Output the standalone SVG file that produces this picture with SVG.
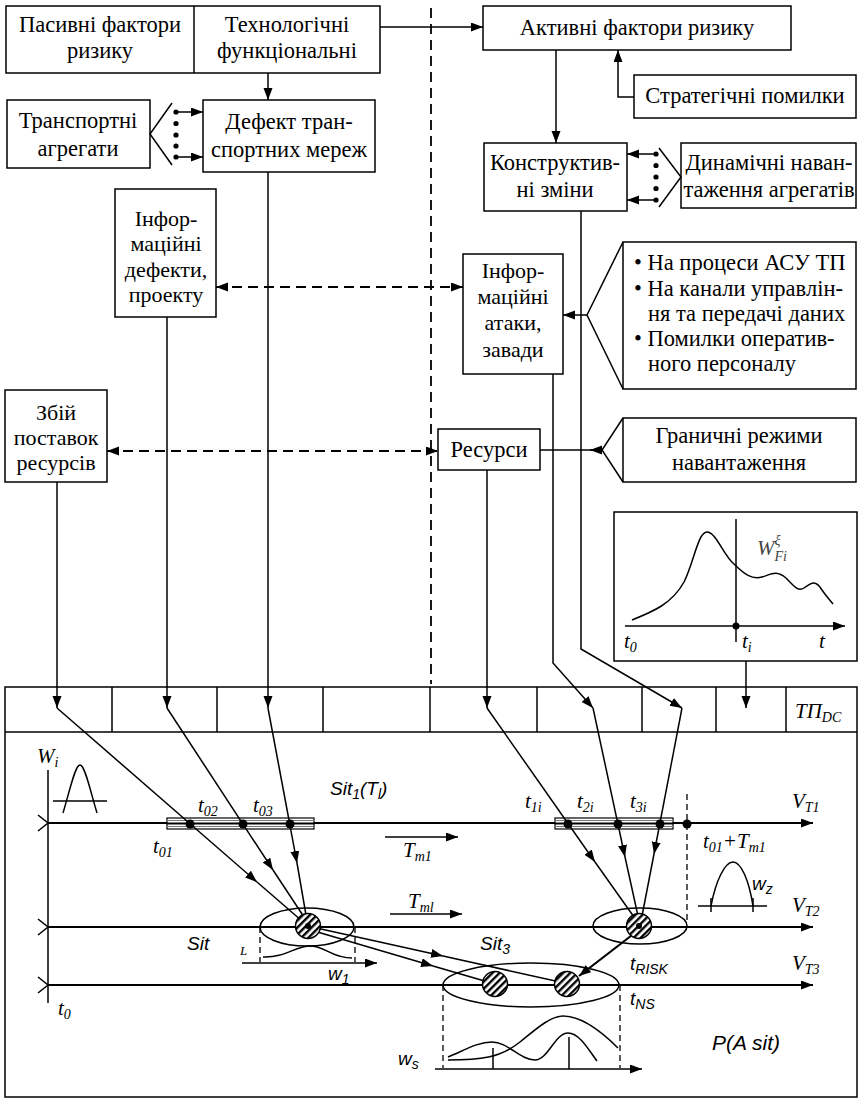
<svg xmlns="http://www.w3.org/2000/svg" width="858" height="1098" viewBox="0 0 858 1098">
<style>
.bx{fill:#fff;stroke:#000;stroke-width:1.5}
.ln{fill:none;stroke:#000;stroke-width:1.5}
.th{fill:none;stroke:#000;stroke-width:2.2}
.ds{fill:none;stroke:#000;stroke-width:1.8;stroke-dasharray:10,6}
.dsl{fill:none;stroke:#000;stroke-width:1.3;stroke-dasharray:6,4}
.t{font-family:'Liberation Serif','Times New Roman',serif;font-size:22.5px;fill:#000;text-anchor:middle}
.t4{font-size:22px}
.tl{font-family:'Liberation Serif','Times New Roman',serif;font-size:22.5px;fill:#000}
.i{font-family:'Liberation Serif','Times New Roman',serif;font-style:italic;font-size:21px;fill:#000}
.s{font-family:'Liberation Sans',Arial,sans-serif;font-style:italic;font-size:19px;fill:#000}
.sb{font-size:14px}
</style>
<defs>
<marker id="ah" markerUnits="userSpaceOnUse" markerWidth="14" markerHeight="10" refX="12" refY="4.5" orient="auto-start-reverse" viewBox="0 0 14 10">
<path d="M0,0 L12,4.5 L0,9 z" fill="#000"/>
</marker>
<pattern id="hatch" patternUnits="userSpaceOnUse" width="5" height="5" patternTransform="rotate(45)">
<rect width="5" height="5" fill="#fff"/>
<rect width="2.4" height="5" fill="#000"/>
</pattern>
</defs>

<g id="n-pasyvni">
<rect class="bx" x="6" y="6" width="374" height="67"/>
<line class="ln" x1="194" y1="6" x2="194" y2="73"/>
<text class="t" x="100" y="32">Пасивні фактори</text>
<text class="t" x="100" y="58">ризику</text>
</g>
<g id="n-tehnologichni">
<text class="t" x="287" y="32">Технологічні</text>
<text class="t" x="287" y="58">функціональні</text>
</g>
<g id="n-aktyvni">
<rect class="bx" x="483" y="6" width="308" height="44"/>
<text class="t" x="637" y="35">Активні фактори ризику</text>
</g>
<g id="n-strategichni">
<rect class="bx" x="634" y="75" width="222" height="43"/>
<text class="t" x="745" y="103">Стратегічні помилки</text>
</g>
<g id="n-transportni">
<rect class="bx" x="7" y="100" width="143" height="68"/>
<text class="t" x="78" y="128">Транспортні</text>
<text class="t" x="78" y="156">агрегати</text>
</g>
<g id="n-defekt">
<rect class="bx" x="203" y="100" width="172" height="72"/>
<text class="t" x="289" y="129">Дефект тран-</text>
<text class="t" x="289" y="157">спортних мереж</text>
</g>
<g id="n-konstruktyvni">
<rect class="bx" x="484" y="143" width="143" height="68"/>
<text class="t" x="555" y="170">Конструктив-</text>
<text class="t" x="555" y="197">ні зміни</text>
</g>
<g id="n-dynamichni">
<rect class="bx" x="681" y="143" width="175" height="65"/>
<text class="t" x="769" y="170">Динамічні наван-</text>
<text class="t" x="769" y="197">таження агрегатів</text>
</g>
<g id="n-info-defekty">
<rect class="bx" x="115" y="189" width="101" height="128"/>
<text class="t t4" x="166" y="226">Інфор-</text>
<text class="t t4" x="166" y="251">маційні</text>
<text class="t t4" x="166" y="277">дефекти,</text>
<text class="t t4" x="166" y="302">проекту</text>
</g>
<g id="n-info-ataky">
<rect class="bx" x="463" y="254" width="100" height="120"/>
<text class="t t4" x="513" y="278">Інфор-</text>
<text class="t t4" x="513" y="304">маційні</text>
<text class="t t4" x="513" y="330">атаки,</text>
<text class="t t4" x="513" y="357">завади</text>
</g>
<g id="n-bullets">
<rect class="bx" x="623" y="242" width="233" height="147"/>
<text class="tl" x="634" y="270">• На процеси АСУ ТП</text>
<text class="tl" x="634" y="296">• На канали управлін-</text>
<text class="tl" x="648" y="321">ня та передачі даних</text>
<text class="tl" x="634" y="346">• Помилки оператив-</text>
<text class="tl" x="648" y="371">ного персоналу</text>
</g>
<g id="n-zbij">
<rect class="bx" x="5" y="390" width="102" height="92"/>
<text class="t t4" x="56" y="420">Збій</text>
<text class="t t4" x="56" y="445">поставок</text>
<text class="t t4" x="56" y="470">ресурсів</text>
</g>
<g id="n-resursy">
<rect class="bx" x="438" y="429" width="102" height="41"/>
<text class="t" x="489" y="457">Ресурси</text>
</g>
<g id="n-granychni">
<rect class="bx" x="623" y="418" width="233" height="64"/>
<text class="t" x="739" y="443">Граничні режими</text>
<text class="t" x="739" y="470">навантаження</text>
</g>

<g id="n-wchart">
<rect class="bx" x="614" y="512" width="243" height="149"/>
<line class="ln" x1="625" y1="626" x2="845" y2="626" marker-end="url(#ah)"/>
<line class="ln" x1="736" y1="519" x2="736" y2="642"/>
<circle cx="736" cy="626" r="3.5" fill="#000"/>
<path class="ln" d="M632,620 C652,612 672,604 684,582 C694,562 698,532 707,532 C716,532 724,556 734,564 C744,574 752,580 762,577 C772,574 776,570 786,578 C794,586 798,592 804,588 C812,582 816,580 822,590 C826,596 830,600 833,604"/>
<text class="i" x="757" y="555" style="fill:#444">W<tspan class="sb" dy="-10">ξ</tspan><tspan class="sb" dx="-6" dy="16">Fi</tspan></text>
<text class="i" x="624" y="648">t<tspan class="sb" dy="4">0</tspan></text>
<text class="i" x="742" y="648">t<tspan class="sb" dy="4">i</tspan></text>
<text class="i" x="819" y="648">t</text>
</g>

<g id="n-tp">
<rect class="ln" x="5" y="687" width="852" height="410"/>
<line class="ln" x1="5" y1="732" x2="857" y2="732"/>
<g class="ln">
<line x1="112" y1="687" x2="112" y2="732"/>
<line x1="217" y1="687" x2="217" y2="732"/>
<line x1="323" y1="687" x2="323" y2="732"/>
<line x1="430" y1="687" x2="430" y2="732"/>
<line x1="537" y1="687" x2="537" y2="732"/>
<line x1="642" y1="687" x2="642" y2="732"/>
<line x1="716" y1="687" x2="716" y2="732"/>
<line x1="786" y1="687" x2="786" y2="732"/>
</g>
<text class="i" x="795" y="718">ТП<tspan class="sb" dy="4">DC</tspan></text>
</g>

<g id="n-axes">
<line class="ln" x1="48" y1="770" x2="48" y2="1003"/>
<path class="ln" d="M63,813 C70,790 75,765 80,765 C85,765 90,790 97,813"/>
<line class="ln" x1="53" y1="801" x2="107" y2="801"/>
<text class="i" x="37" y="763">W<tspan class="sb" dy="4">i</tspan></text>
<polyline class="ln" points="38,815 48,823 38,831"/>
<polyline class="ln" points="38,919 48,927 38,935"/>
<polyline class="ln" points="38,977 48,985 38,993"/>
<line class="th" x1="48" y1="823" x2="813" y2="823" marker-end="url(#ah)"/>
<line class="th" x1="48" y1="927" x2="813" y2="927" marker-end="url(#ah)"/>
<line class="th" x1="48" y1="985" x2="813" y2="985" marker-end="url(#ah)"/>
<text class="i" x="792" y="808">V<tspan class="sb" dy="4">T1</tspan></text>
<text class="i" x="792" y="912">V<tspan class="sb" dy="4">T2</tspan></text>
<text class="i" x="792" y="970">V<tspan class="sb" dy="4">T3</tspan></text>
<text class="i" x="58" y="1015">t<tspan class="sb" dy="4">0</tspan></text>
</g>

<g id="n-band1">
<rect x="167" y="818" width="147" height="11" fill="#fff" stroke="#000" stroke-width="1.2"/>
<line x1="167" y1="820.5" x2="314" y2="820.5" stroke="#777" stroke-width="1"/>
<line x1="167" y1="826.5" x2="314" y2="826.5" stroke="#777" stroke-width="1"/>
<line x1="167" y1="823.5" x2="314" y2="823.5" stroke="#000" stroke-width="2"/>
<circle cx="190" cy="824" r="4.5" fill="#000"/>
<circle cx="243" cy="824" r="4.5" fill="#000"/>
<circle cx="290" cy="824" r="4.5" fill="#000"/>
<text class="i" x="153" y="853">t<tspan class="sb" dy="4">01</tspan></text>
<text class="i" x="198" y="812">t<tspan class="sb" dy="4">02</tspan></text>
<text class="i" x="253" y="812">t<tspan class="sb" dy="4">03</tspan></text>
</g>
<g id="n-band2">
<rect x="555" y="818" width="118" height="11" fill="#fff" stroke="#000" stroke-width="1.2"/>
<line x1="555" y1="820.5" x2="673" y2="820.5" stroke="#777" stroke-width="1"/>
<line x1="555" y1="826.5" x2="673" y2="826.5" stroke="#777" stroke-width="1"/>
<line x1="555" y1="823.5" x2="673" y2="823.5" stroke="#000" stroke-width="2"/>
<circle cx="568" cy="824" r="4.5" fill="#000"/>
<circle cx="618" cy="824" r="4.5" fill="#000"/>
<circle cx="660" cy="824" r="4.5" fill="#000"/>
<circle cx="687" cy="824" r="4.5" fill="#000"/>
<line class="dsl" x1="687" y1="794" x2="687" y2="922"/>
<text class="i" x="525" y="808">t<tspan class="sb" dy="4">1i</tspan></text>
<text class="i" x="577" y="808">t<tspan class="sb" dy="4">2i</tspan></text>
<text class="i" x="630" y="808">t<tspan class="sb" dy="4">3i</tspan></text>
<text class="i" x="703" y="848">t<tspan class="sb" dy="4">01</tspan><tspan dy="-4">+T</tspan><tspan class="sb" dy="4">m1</tspan></text>
</g>

<g id="connectors">
<line class="ln" x1="380" y1="27" x2="483" y2="27" marker-end="url(#ah)"/>
<line class="ln" x1="268" y1="73" x2="268" y2="100" marker-end="url(#ah)"/>
<polyline class="ln" points="634,97 618,97 618,50" marker-end="url(#ah)"/>
<line class="ln" x1="556" y1="50" x2="556" y2="143" marker-end="url(#ah)"/>
<polyline class="ln" points="172,103 150,134 172,165"/>
<line class="ln" x1="176" y1="112" x2="203" y2="112" marker-end="url(#ah)"/>
<line class="ln" x1="176" y1="157" x2="203" y2="157" marker-end="url(#ah)"/>
<g fill="#000"><circle cx="176" cy="112" r="2.6"/><circle cx="176" cy="123.5" r="2.6"/><circle cx="176" cy="135" r="2.6"/><circle cx="176" cy="146" r="2.6"/><circle cx="176" cy="157" r="2.6"/></g>
<polyline class="ln" points="659,148 681,177 659,207"/>
<line class="ln" x1="656" y1="154" x2="627" y2="154" marker-end="url(#ah)"/>
<line class="ln" x1="656" y1="200" x2="627" y2="200" marker-end="url(#ah)"/>
<g fill="#000"><circle cx="656" cy="154" r="2.6"/><circle cx="656" cy="165.5" r="2.6"/><circle cx="656" cy="177" r="2.6"/><circle cx="656" cy="188.5" r="2.6"/><circle cx="656" cy="200" r="2.6"/></g>
<line class="ds" x1="431" y1="8" x2="431" y2="684"/>
<line class="ds" x1="216" y1="287" x2="463" y2="287" marker-start="url(#ah)" marker-end="url(#ah)"/>
<line class="ds" x1="107" y1="451" x2="438" y2="451" marker-start="url(#ah)" marker-end="url(#ah)"/>
<polyline class="ln" points="623,242 587,315 623,389"/>
<line class="ln" x1="587" y1="315" x2="563" y2="315" marker-end="url(#ah)"/>
<polyline class="ln" points="623,418 602,450 623,482"/>
<line class="ln" x1="540" y1="450" x2="602" y2="450"/>
<line class="ln" x1="602" y1="450" x2="590" y2="450" marker-end="url(#ah)"/>
<line class="ln" x1="57" y1="482" x2="57" y2="708" marker-end="url(#ah)"/>
<line class="ln" x1="167" y1="317" x2="167" y2="708" marker-end="url(#ah)"/>
<line class="ln" x1="268" y1="172" x2="268" y2="708" marker-end="url(#ah)"/>
<line class="ln" x1="487" y1="470" x2="487" y2="708" marker-end="url(#ah)"/>
<polyline class="ln" points="553,374 553,663 593,708" marker-end="url(#ah)"/>
<polyline class="ln" points="581,211 581,649 682,708" marker-end="url(#ah)"/>
<line class="ln" x1="746" y1="661" x2="746" y2="708" marker-end="url(#ah)"/>
<line class="ln" x1="57" y1="708" x2="257" y2="882" marker-end="url(#ah)"/>
<line class="ln" x1="257" y1="882" x2="302" y2="921"/>
<line class="ln" x1="167" y1="708" x2="273" y2="870" marker-end="url(#ah)"/>
<line class="ln" x1="273" y1="870" x2="304" y2="917"/>
<line class="ln" x1="268" y1="708" x2="297" y2="863" marker-end="url(#ah)"/>
<line class="ln" x1="297" y1="863" x2="306" y2="915"/>
<line class="ln" x1="487" y1="708" x2="595" y2="862" marker-end="url(#ah)"/>
<line class="ln" x1="595" y1="862" x2="634" y2="917"/>
<line class="ln" x1="593" y1="708" x2="625" y2="857" marker-end="url(#ah)"/>
<line class="ln" x1="625" y1="857" x2="638" y2="916"/>
<line class="ln" x1="682" y1="708" x2="654" y2="854" marker-end="url(#ah)"/>
<line class="ln" x1="654" y1="854" x2="642" y2="916"/>
<line class="ln" x1="312" y1="927" x2="443" y2="956" marker-end="url(#ah)"/>
<line class="ln" x1="443" y1="956" x2="560" y2="982"/>
<line class="ln" x1="314" y1="931" x2="433" y2="966" marker-end="url(#ah)"/>
<line class="ln" x1="433" y1="966" x2="488" y2="982"/>
<line class="th" x1="636" y1="932" x2="579" y2="976" marker-end="url(#ah)"/>
</g>

<g id="n-labels">
<text class="s" x="330" y="795">Sit<tspan class="sb" dy="4">1</tspan><tspan dy="-4">(T</tspan><tspan class="sb" dy="4">l</tspan><tspan dy="-4">)</tspan></text>
<line class="ln" x1="385" y1="837" x2="458" y2="837" marker-end="url(#ah)"/>
<text class="i" x="403" y="857">T<tspan class="sb" dy="4">m1</tspan></text>
<line class="ln" x1="390" y1="914" x2="462" y2="914" marker-end="url(#ah)"/>
<text class="i" x="408" y="908">T<tspan class="sb" dy="4">ml</tspan></text>
<line class="ln" x1="698" y1="906" x2="767" y2="906"/>
<path class="ln" d="M711,906 C716,880 725,862 733,862 C741,862 749,880 753,906"/>
<line class="ln" x1="711" y1="898" x2="711" y2="912"/>
<line class="ln" x1="753" y1="898" x2="753" y2="912"/>
<text class="s" x="752" y="890">w<tspan class="sb" dy="4">z</tspan></text>
</g>

<g id="n-sit">
<ellipse class="ln" cx="307" cy="927" rx="47" ry="19"/>
<circle cx="308" cy="926" r="12.5" fill="url(#hatch)" stroke="#000" stroke-width="1.5"/>
<circle cx="308" cy="926" r="3" fill="#000"/>
<line class="dsl" x1="260" y1="927" x2="260" y2="962"/>
<line class="dsl" x1="355" y1="927" x2="355" y2="962"/>
<path class="ln" d="M263,957 C285,958 295,946 310,946 C325,946 332,958 352,958"/>
<line class="ln" x1="242" y1="963" x2="377" y2="963" marker-end="url(#ah)"/>
<text class="s" x="187" y="950">Sit</text>
<text class="i" x="240" y="955" style="font-size:13px">L</text>
<text class="s" x="328" y="980">w<tspan class="sb" dy="4">1</tspan></text>
</g>

<g id="n-risk">
<ellipse class="ln" cx="640" cy="926" rx="47" ry="18"/>
<circle cx="639" cy="926" r="12.5" fill="url(#hatch)" stroke="#000" stroke-width="1.5"/>
<circle cx="639" cy="926" r="3" fill="#000"/>
<text class="s" x="630" y="970">t<tspan class="sb" dy="4">RISK</tspan></text>
</g>

<g id="n-sit3">
<ellipse class="ln" cx="531" cy="985" rx="88" ry="22"/>
<circle cx="495" cy="984" r="12.5" fill="url(#hatch)" stroke="#000" stroke-width="1.5"/>
<circle cx="567" cy="984" r="12.5" fill="url(#hatch)" stroke="#000" stroke-width="1.5"/>
<text class="s" x="480" y="950">Sit<tspan class="sb" dy="4">3</tspan></text>
<text class="s" x="630" y="1005">t<tspan class="sb" dy="4">NS</tspan></text>
<line class="dsl" x1="443" y1="985" x2="443" y2="1068"/>
<line class="dsl" x1="620" y1="985" x2="620" y2="1068"/>
<line class="ln" x1="435" y1="1069" x2="642" y2="1069" marker-end="url(#ah)"/>
<path class="ln" d="M448,1057 C465,1050 478,1042 492,1042 C508,1042 520,1060 535,1060 C548,1060 555,1033 568,1033 C580,1033 590,1052 597,1061"/>
<path class="ln" d="M448,1060 C480,1060 500,1058 520,1042 C535,1030 550,1016 563,1016 C580,1016 600,1030 618,1048"/>
<line class="ln" x1="493" y1="1048" x2="493" y2="1069"/>
<line class="ln" x1="569" y1="1037" x2="569" y2="1069"/>
<text class="s" x="398" y="1065">w<tspan class="sb" dy="4">s</tspan></text>
<text class="s" x="712" y="1050" style="font-size:21px">P(A sit)</text>
</g>
</svg>
